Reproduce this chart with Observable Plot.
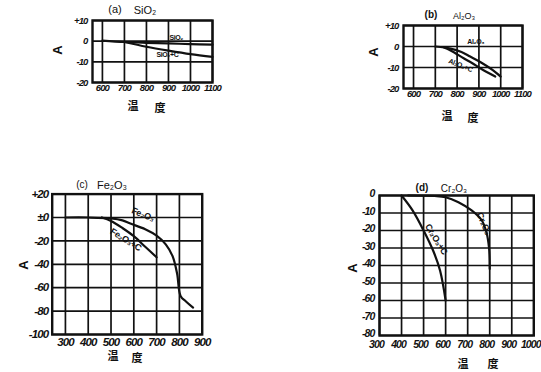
<!DOCTYPE html>
<html><head><meta charset="utf-8">
<script src="https://cdn.jsdelivr.net/npm/d3@7"></script>
<script src="https://cdn.jsdelivr.net/npm/@observablehq/plot@0.6"></script>
<style>
body{margin:0;background:#fff;}
#root{position:relative;width:541px;height:372px;overflow:hidden;background:#fff;font-family:"Liberation Sans",sans-serif;color:#111;}
.abs{position:absolute;white-space:nowrap;color:#111;line-height:1;}
.wrap{position:absolute;}
.wrap svg{overflow:visible;}
.wrap svg g[aria-label="x-axis tick label"] text,
.wrap svg g[aria-label="y-axis tick label"] text{letter-spacing:-0.9px;font-style:italic;}
.wrap svg g[aria-label="text"] text{letter-spacing:-0.4px;}
</style></head><body><div id="root"></div>
<script>
// ---------- DATA ----------
// (a) SiO2
const aXTicks = [600, 700, 800, 900, 1000, 1100];
const aXLabels = ["600", "700", "800", "900", "1000", "1100"];
const aYTicks = [10, 0, -10, -20];
const aYLabels = ["+10", "0", "-10", "-20"];
const siTemp = [600, 700, 800, 900, 1000, 1100];
const siVal = [0.3, -0.4, -0.8, -1.1, -1.4, -1.7];
const siCTemp = [700, 800, 900, 1000, 1100];
const siCVal = [-0.4, -2.7, -4.6, -6.3, -7.6];
const aLabelText = ["SiO₂", "SiO₂+C"];
const aLabelX = [935, 895];
const aLabelY = [1.6, -6.6];

// (b) Al2O3
const bXTicks = [600, 700, 800, 900, 1000, 1100];
const bXLabels = ["600", "700", "800", "900", "1000", "1100"];
const bYTicks = [10, 0, -10, -20];
const bYLabels = ["+10", "0", "-10", "-20"];
const alTemp = [700, 770, 820, 860, 910, 955, 1000];
const alVal = [0, -1.0, -2.6, -4.8, -7.6, -10.6, -14.3];
const alCTemp = [740, 770, 830, 870, 910, 975];
const alCVal = [-0.5, -1.9, -5.6, -8.0, -10.6, -14.3];
const bLabelText = ["Al₂O₃", "Al₂O₃+C"];
const bLabelX = [885, 815];
const bLabelY = [2.4, -9.0];

// (c) Fe2O3
const cXTicks = [300, 400, 500, 600, 700, 800, 900];
const cXLabels = ["300", "400", "500", "600", "700", "800", "900"];
const cYTicks = [20, 0, -20, -40, -60, -80, -100];
const cYLabels = ["+20", "±0", "-20", "-40", "-60", "-80", "-100"];
const feTemp = [300, 400, 500, 550, 585, 650, 700, 740, 770, 790, 805, 830, 860];
const feVal = [0, 0, -0.8, -2.5, -5.2, -10, -15.5, -23, -33, -48, -67, -72, -77];
const feCTemp = [460, 500, 550, 600, 650, 700];
const feCVal = [0, -3, -9, -16, -25, -34];
const cLabelText = ["Fe₂O₃", "Fe₂O₃+C"];
const cLabelX = [640, 565];
const cLabelY = [2.5, -19];
const cLabelRot = [22, 32];

// (d) Cr2O3
const dXTicks = [300, 400, 500, 600, 700, 800, 900, 1000];
const dXLabels = ["300", "400", "500", "600", "700", "800", "900", "1000"];
const dYTicks = [0, -10, -20, -30, -40, -50, -60, -70, -80];
const dYLabels = ["0", "-10", "-20", "-30", "-40", "-50", "-60", "-70", "-80"];
const crCTemp = [400, 450, 500, 545, 575, 600];
const crCVal = [0, -8.5, -20, -32, -43, -60];
const crTemp = [430, 550, 600, 658, 718, 763, 785, 797, 800];
const crVal = [0, -0.3, -1, -3.8, -8.5, -14, -21, -30, -42];
const dLabelText = ["Cr₂O₃+C", "Cr₂O₃"];
const dLabelX = [557, 773];
const dLabelY = [-25, -16];
const dLabelRot = [58, 66];

// ---------- DRAW ----------
const root = document.getElementById("root");
const INK = "#111";
const FONT = "Liberation Sans, sans-serif";

function span(text, x, y, opts = {}) {
  const s = document.createElement("div");
  s.className = "abs";
  s.textContent = text;
  s.style.left = x + "px";
  s.style.top = y + "px";
  s.style.fontSize = (opts.size || 11) + "px";
  s.style.fontWeight = opts.weight || "bold";
  if (opts.family) s.style.fontFamily = opts.family;
  if (opts.style) s.style.fontStyle = opts.style;
  s.style.transform = "translate(-50%,-50%)" + (opts.rotate ? ` rotate(${opts.rotate}deg)` : "");
  root.appendChild(s);
}

function series(xs, ys) { return xs.map((t, i) => ({t, v: ys[i]})); }

function panel(cfg) {
  const labels = cfg.labelText.map((text, i) => ({text, x: cfg.labelX[i], y: cfg.labelY[i], r: cfg.labelRot ? cfg.labelRot[i] : 0}));
  const marks = [
    Plot.gridX(cfg.xTicks, {stroke: INK, strokeOpacity: 1, strokeWidth: 1.7}),
    Plot.gridY(cfg.yTicks, {stroke: INK, strokeOpacity: 1, strokeWidth: 1.7}),
    Plot.frame({stroke: INK, strokeWidth: 2.4}),
    Plot.axisX(cfg.xTicks, {tickSize: 0, tickPadding: cfg.xPad, label: null, dx: cfg.xdx || 0,
      tickFormat: d => cfg.xLabels[cfg.xTicks.indexOf(d)],
      fontSize: cfg.fs, fontStyle: "italic", fontWeight: "bold", fontFamily: FONT, fill: INK}),
    Plot.axisY(cfg.yTicks, {tickSize: 0, tickPadding: cfg.yPad, label: null, dy: cfg.ydy || 0,
      tickFormat: d => cfg.yLabels[cfg.yTicks.indexOf(d)],
      fontSize: cfg.fs, fontStyle: "italic", fontWeight: "bold", fontFamily: FONT, fill: INK}),
  ];
  for (const s of cfg.series) {
    marks.push(Plot.line(s, {x: "t", y: "v", stroke: INK, strokeWidth: 2.2, curve: "catmull-rom"}));
  }
  for (const l of labels) {
    marks.push(Plot.text([l], {x: "x", y: "y", text: "text", rotate: l.r, fontSize: cfg.lfs, fontWeight: "bold", fontFamily: FONT, fill: INK}));
  }
  const svg = Plot.plot({
    width: cfg.w, height: cfg.h,
    marginLeft: cfg.mL, marginRight: cfg.mR, marginTop: cfg.mT, marginBottom: cfg.mB,
    x: {domain: cfg.xDomain},
    y: {domain: cfg.yDomain},
    style: {background: "transparent", fontFamily: FONT, color: INK, overflow: "visible"},
    marks
  });
  const d = document.createElement("div");
  d.className = "wrap";
  d.style.left = cfg.left + "px";
  d.style.top = cfg.top + "px";
  d.appendChild(svg);
  root.appendChild(d);
}

// (a)
panel({left: 40, top: 5, w: 190, h: 95, mL: 52, mR: 18, mT: 15, mB: 18,
  xDomain: [555, 1100], yDomain: [-20, 10],
  xTicks: aXTicks, xLabels: aXLabels, yTicks: aYTicks, yLabels: aYLabels,
  xPad: 2, yPad: 5, fs: 9.5, lfs: 7,
  series: [series(siTemp, siVal), series(siCTemp, siCVal)],
  labelText: aLabelText, labelX: aLabelX, labelY: aLabelY});
// (b)
panel({left: 350, top: 10, w: 190, h: 95, mL: 53, mR: 18, mT: 15, mB: 17,
  xDomain: [554, 1100], yDomain: [-20, 10],
  xTicks: bXTicks, xLabels: bXLabels, yTicks: bYTicks, yLabels: bYLabels,
  xPad: 2, yPad: 5, fs: 9.5, lfs: 7,
  series: [series(alTemp, alVal), series(alCTemp, alCVal)],
  labelText: bLabelText, labelX: bLabelX, labelY: bLabelY, labelRot: [0, 22]});
// (c)
panel({left: 0, top: 180, w: 215, h: 170, mL: 51.7, mR: 13.3, mT: 13.6, mB: 16,
  xDomain: [242, 900], yDomain: [-100, 20],
  xTicks: cXTicks, xLabels: cXLabels, yTicks: cYTicks, yLabels: cYLabels,
  xPad: 3, yPad: 4, fs: 11.5, lfs: 9,
  series: [series(feTemp, feVal), series(feCTemp, feCVal)],
  labelText: cLabelText, labelX: cLabelX, labelY: cLabelY, labelRot: cLabelRot});
// (d)
panel({left: 330, top: 185, w: 211, h: 165, mL: 49, mR: 7.7, mT: 10, mB: 15,
  xDomain: [300, 1000], yDomain: [-80, 0],
  xTicks: dXTicks, xLabels: dXLabels, yTicks: dYTicks, yLabels: dYLabels,
  xPad: 5, yPad: 5, fs: 10.5, lfs: 9, xdx: -3, ydy: -1.5,
  series: [series(crCTemp, crCVal), series(crTemp, crVal)],
  labelText: dLabelText, labelX: dLabelX, labelY: dLabelY, labelRot: dLabelRot});

// titles
span("(a)", 115, 9, {size: 11, weight: "normal"});
span("SiO₂", 145, 10, {size: 11, weight: "normal"});
span("(b)", 431, 15, {size: 10});
span("Al₂O₃", 464, 16, {size: 9, weight: "normal"});
span("(c)", 82, 185, {size: 10, weight: "normal"});
span("Fe₂O₃", 112, 185, {size: 11, weight: "normal"});
span("(d)", 422, 188, {size: 10});
span("Cr₂O₃", 454, 189, {size: 10, weight: "normal"});

// y-axis names
span("A", 57, 50, {size: 13, rotate: -90});
span("A", 373, 52, {size: 13, rotate: -90});
span("A", 23, 265, {size: 13, rotate: -90});
span("A", 352, 268, {size: 13, rotate: -90});

// x-axis names
const CJK = "'Noto Sans CJK SC',sans-serif";
const xName = ["温", "度"];
span(xName[0], 133, 105, {size: 11, family: CJK});
span(xName[1], 160, 107, {size: 11, family: CJK});
span(xName[0], 447, 115, {size: 11, family: CJK});
span(xName[1], 473, 117, {size: 11, family: CJK});
span(xName[0], 113, 355, {size: 11, family: CJK});
span(xName[1], 137, 357, {size: 11, family: CJK});
span(xName[0], 463, 363, {size: 11, family: CJK});
span(xName[1], 493, 363, {size: 11, family: CJK});
</script></body></html>
